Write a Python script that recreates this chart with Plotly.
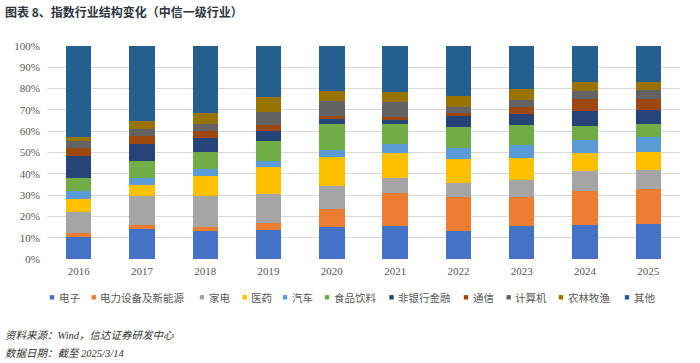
import plotly.graph_objects as go

years = ["2016", "2017", "2018", "2019", "2020", "2021", "2022", "2023", "2024", "2025"]

series_names = ["电子", "电力设备及新能源", "家电", "医药", "汽车", "食品饮料",
                "非银行金融", "通信", "计算机", "农林牧渔", "其他"]

dianzi      = [10.2, 14.2, 13.0, 13.8, 14.9, 15.3, 13.0, 15.3, 16.1, 16.6]
dianli      = [2.0, 1.9, 1.9, 3.1, 8.4, 15.5, 16.3, 13.7, 16.0, 16.1]
jiadian     = [10.0, 13.6, 14.7, 13.8, 11.1, 7.2, 6.5, 8.1, 9.4, 9.2]
yiyao       = [5.8, 4.9, 9.2, 12.3, 13.3, 11.6, 11.0, 10.5, 8.3, 8.2]
qiche       = [3.9, 3.4, 3.6, 2.9, 3.6, 4.5, 5.3, 6.1, 6.1, 7.0]
shipin      = [6.1, 7.9, 7.7, 9.5, 12.2, 9.3, 9.9, 9.1, 6.7, 6.4]
feiyin      = [10.5, 7.9, 6.9, 4.7, 2.2, 2.0, 5.0, 5.3, 6.9, 6.6]
tongxin     = [3.5, 3.9, 2.9, 2.7, 1.4, 1.3, 1.4, 3.1, 5.5, 4.9]
jisuanji    = [3.4, 3.3, 3.3, 6.4, 6.9, 7.2, 2.8, 3.6, 4.0, 4.3]
nonglin     = [2.0, 3.6, 5.2, 6.7, 5.0, 4.3, 5.2, 4.9, 4.1, 3.8]
qita        = [42.6, 35.4, 31.6, 24.1, 21.0, 21.8, 23.6, 20.3, 16.9, 16.9]

y_ticks = [0, 10, 20, 30, 40, 50, 60, 70, 80, 90, 100]

series_values = [dianzi, dianli, jiadian, yiyao, qiche, shipin,
                 feiyin, tongxin, jisuanji, nonglin, qita]

colors = ["#4472C4", "#ED7D31", "#A5A5A5", "#FFC000", "#5B9BD5", "#70AD47",
          "#264478", "#9E480E", "#636363", "#997300", "#255E91"]

W, H = 700, 363
ML, MR, MT, MB = 47, 20, 46, 104
PW = W - ML - MR
PH = H - MT - MB

fig = go.Figure()
for name, vals, c in zip(series_names, series_values, colors):
    fig.add_trace(go.Bar(
        x=years, y=[v / 100 for v in vals], name=name,
        marker=dict(color=c, line=dict(width=0)),
        showlegend=False,
    ))

def px_x(px):
    return (px - ML) / PW

def px_y(py):
    return (H - MB - py) / PH

# custom legend (squares + text)
legend_sq_x = [52, 93.7, 202, 244.7, 285, 327, 391.5, 466, 508.7, 561, 627]
legend_y = 297.3
shapes = []
annotations = []
for name, c, sx in zip(series_names, colors, legend_sq_x):
    shapes.append(dict(type="rect", xref="paper", yref="paper",
                       x0=px_x(sx - 2.2), x1=px_x(sx + 2.2),
                       y0=px_y(legend_y + 2.2), y1=px_y(legend_y - 2.2),
                       fillcolor=c, line=dict(width=0)))
    annotations.append(dict(text=name, xref="paper", yref="paper",
                            x=px_x(sx + 4.5), y=px_y(legend_y),
                            xanchor="left", yanchor="middle", showarrow=False,
                            font=dict(family="Noto Sans CJK SC", size=10.5, color="#595959")))

# title
annotations.append(dict(text="<b>图表 8、指数行业结构变化（中信一级行业）</b>",
                        xref="paper", yref="paper", x=px_x(3), y=px_y(11),
                        xanchor="left", yanchor="middle", showarrow=False,
                        font=dict(family="Noto Sans CJK SC", size=12, color="#2E3440")))
# footer
annotations.append(dict(text="资料来源：Wind，信达证券研发中心",
                        xref="paper", yref="paper", x=px_x(3), y=px_y(335),
                        xanchor="left", yanchor="middle", showarrow=False,
                        font=dict(family="Liberation Serif, Noto Sans CJK SC", size=10.5,
                                  color="#333333", style="italic")))
annotations.append(dict(text="数据日期：截至 2025/3/14",
                        xref="paper", yref="paper", x=px_x(3), y=px_y(353),
                        xanchor="left", yanchor="middle", showarrow=False,
                        font=dict(family="Liberation Serif, Noto Sans CJK SC", size=10.5,
                                  color="#333333", style="italic")))

fig.update_layout(
    width=W, height=H,
    margin=dict(l=ML, r=MR, t=MT, b=MB, pad=0),
    barmode="stack", bargap=0.6,
    plot_bgcolor="white", paper_bgcolor="white",
    shapes=shapes, annotations=annotations,
    showlegend=False,
    xaxis=dict(type="category", showgrid=False, showline=False, zeroline=False,
               ticks="", ticklabelstandoff=4,
               tickfont=dict(family="Liberation Serif", size=11, color="#595959")),
    yaxis=dict(range=[0, 1], tickvals=[t / 100 for t in y_ticks],
               ticktext=[f"{t}%" for t in y_ticks],
               showgrid=True, gridcolor="#D9D9D9", gridwidth=1,
               zeroline=False, showline=False, ticks="", ticklabelstandoff=6,
               tickfont=dict(family="Liberation Serif", size=11, color="#595959")),
)

fig.write_html("out.html",
               config={"displayModeBar": False},
               post_script="document.body.style.margin='0';document.body.style.overflow='hidden';")
